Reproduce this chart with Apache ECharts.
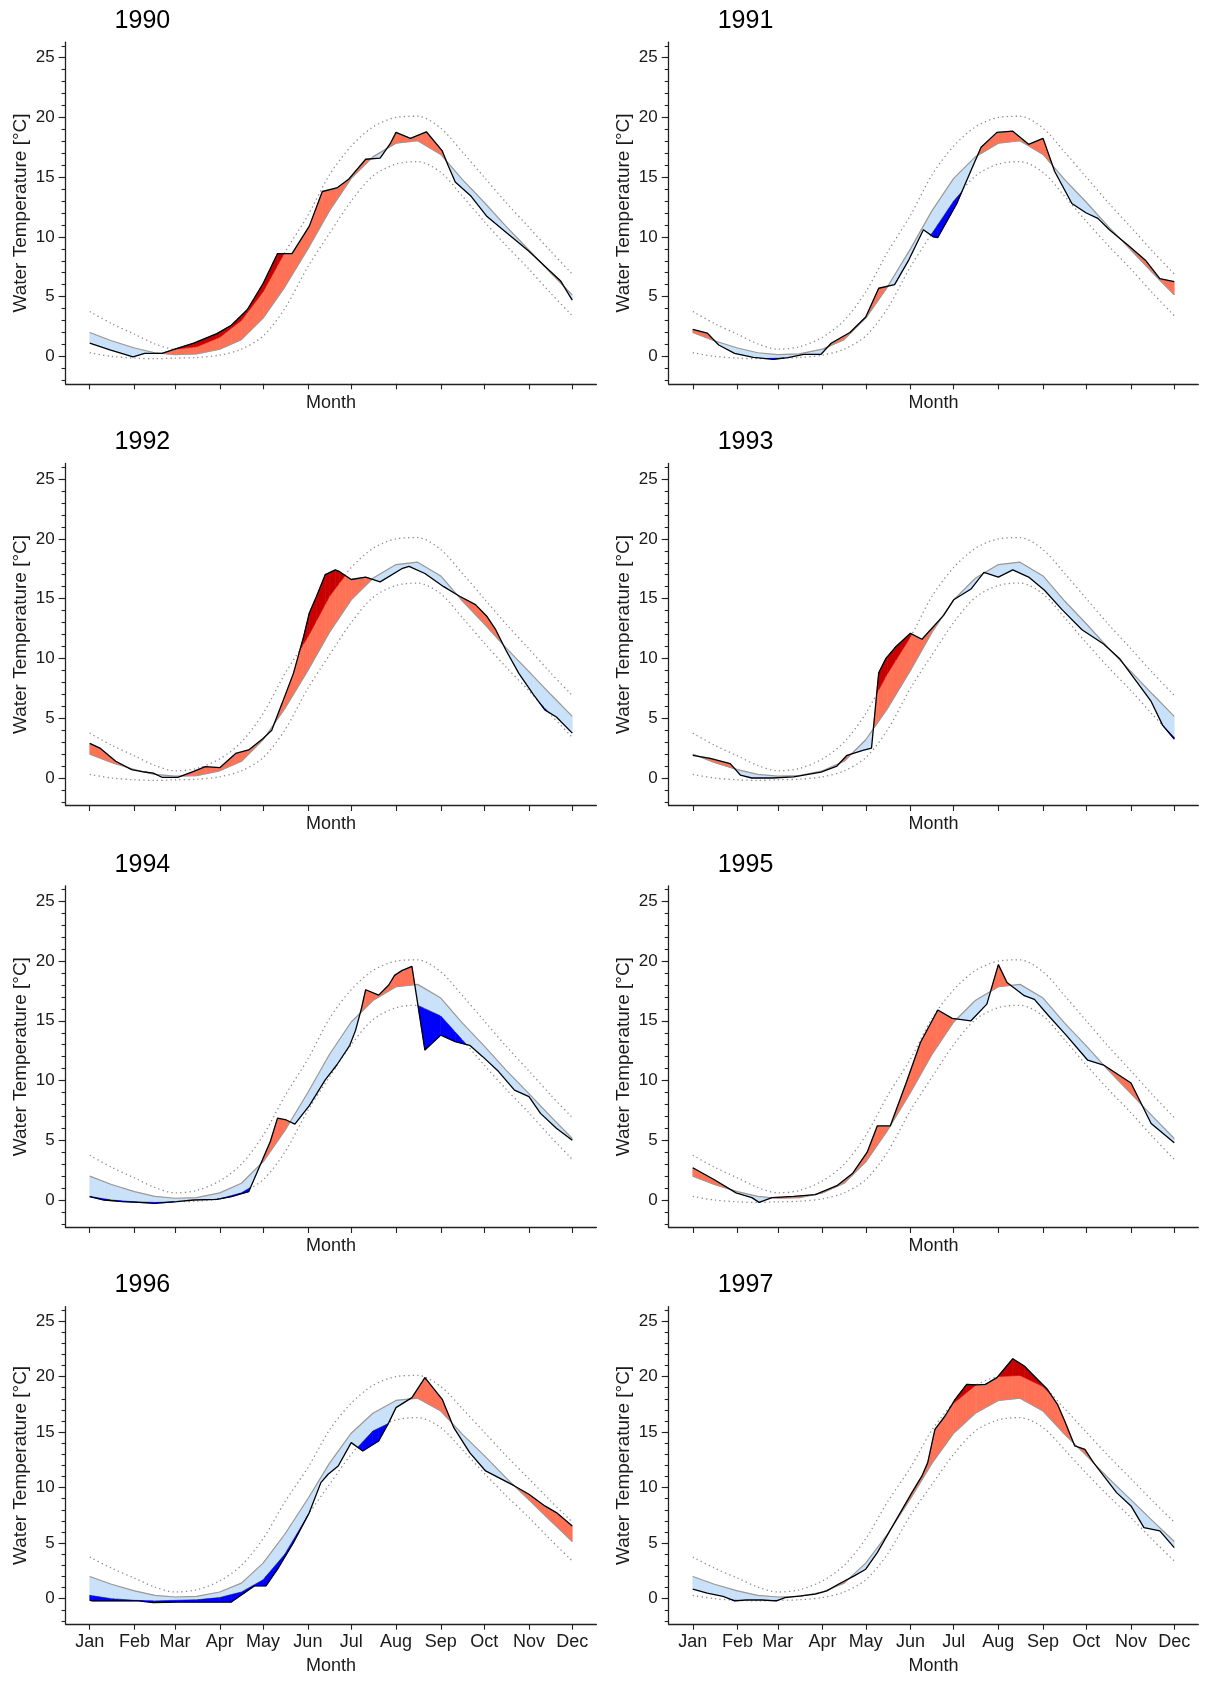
<!DOCTYPE html>
<html><head><meta charset="utf-8">
<script src="https://cdn.jsdelivr.net/npm/echarts@6/dist/echarts.min.js"></script>
<style>html,body{margin:0;padding:0;background:#fff;}#chart{width:1214px;height:1682px;}</style>
</head><body><div id="chart"></div>
<script>
// ---------- data ----------
const YEARS = ['1990','1991','1992','1993','1994','1995','1996','1997'];
const MONTH_DAYS = [0,31,59,90,120,151,181,212,243,273,304,334];
const MONTH_LABELS = ['Jan','Feb','Mar','Apr','May','Jun','Jul','Aug','Sep','Oct','Nov','Dec'];
const Y_TICKS = [0,5,10,15,20,25];
const Y_MINOR = [-2,-1,0,1,2,3,4,5,6,7,8,9,10,11,12,13,14,15,16,17,18,19,20,21,22,23,24,25,26];

// climatology (day of year)
const CLIM_DAYS = [0,15,31,45,59,74,90,105,120,135,151,166,181,196,212,227,243,258,273,288,304,319,334];
const CLIM  = [2.0,1.3,0.7,0.3,0.15,0.2,0.6,1.4,3.2,5.8,9.0,12.2,14.9,16.7,17.85,18.05,16.9,14.8,12.9,10.9,8.9,7.0,5.15];
const UPPER = [3.75,2.75,1.85,1.05,0.6,0.8,1.6,3.0,5.4,8.7,11.8,15.2,17.6,19.2,20.0,20.1,19.1,17.1,15.0,12.9,10.8,8.8,6.9];
const LOWER = [0.3,0.0,-0.15,-0.2,-0.15,-0.1,0.1,0.6,1.7,4.0,7.5,10.3,13.0,15.1,16.1,16.3,15.4,13.4,11.3,9.3,7.3,5.3,3.4];

// observed water temperature [day, °C]
const OBS_1990 = [[0,1.1],[14,0.55],[30,-0.05],[38,0.25],[50,0.25],[60,0.65],[72,1.1],[88,1.9],[98,2.6],[109,3.9],[120,6.1],[130,8.6],[140,8.6],[152,10.9],[161,13.8],[171,14.1],[179,14.8],[191,16.5],[201,16.6],[208,17.8],[212,18.75],[222,18.25],[233,18.8],[244,17.2],[248,16.0],[253,14.6],[264,13.4],[275,11.7],[286,10.6],[294,9.8],[304,8.8],[318,7.2],[326,6.3],[334,4.7]];
const OBS_1991 = [[0,2.25],[10,1.95],[18,0.95],[29,0.25],[42,-0.08],[56,-0.25],[66,-0.1],[77,0.17],[89,0.17],[96,1.1],[109,2.0],[120,3.3],[129,5.7],[140,6.0],[150,8.1],[160,10.6],[167,10.0],[170,9.95],[183,12.75],[191,15.0],[200,17.5],[211,18.75],[222,18.85],[233,17.75],[243,18.25],[251,15.5],[263,12.8],[273,12.0],[281,11.55],[289,10.6],[302,9.3],[314,8.05],[324,6.5],[334,6.25]];
const OBS_1992 = [[0,2.9],[7,2.5],[18,1.4],[29,0.7],[38,0.5],[44,0.4],[50,0.06],[61,0.06],[72,0.55],[80,0.95],[90,0.86],[101,2.05],[110,2.35],[120,3.3],[126,4.0],[133,6.2],[141,8.75],[148,11.8],[152,13.8],[157,15.2],[163,17.0],[170,17.4],[173,17.25],[181,16.6],[191,16.8],[201,16.4],[216,17.5],[221,17.7],[232,17.1],[245,16.0],[256,15.2],[267,14.5],[275,13.5],[281,12.4],[288,10.7],[297,8.75],[307,7.0],[315,5.7],[323,5.1],[334,3.75]];
const OBS_1993 = [[0,1.9],[12,1.65],[26,1.2],[33,0.25],[41,0.0],[55,0.0],[70,0.1],[89,0.5],[100,1.0],[107,1.9],[118,2.3],[124,2.5],[129,8.8],[134,10.0],[141,11.0],[151,12.1],[159,11.6],[174,13.6],[181,14.9],[193,15.8],[202,17.2],[212,16.8],[222,17.4],[233,16.8],[244,15.7],[256,14.1],[270,12.4],[285,11.2],[296,10.0],[307,8.2],[318,6.4],[326,4.4],[334,3.25]];
const OBS_1994 = [[0,0.28],[10,0.0],[23,-0.14],[34,-0.2],[45,-0.28],[60,-0.14],[72,0.0],[88,0.06],[98,0.28],[110,0.7],[114,1.8],[125,4.9],[130,6.85],[136,6.7],[142,6.35],[152,7.9],[163,10.05],[171,11.3],[180,12.95],[184,14.2],[188,16.0],[191,17.6],[200,17.15],[207,18.0],[211,18.8],[216,19.2],[223,19.55],[232,12.55],[243,13.8],[253,13.25],[263,12.95],[272,12.0],[283,10.75],[294,9.2],[304,8.65],[312,7.25],[323,6.0],[334,5.0]];
const OBS_1995 = [[0,2.7],[15,1.7],[30,0.6],[41,0.2],[46,-0.2],[55,0.2],[70,0.3],[85,0.45],[100,1.2],[111,2.25],[121,4.0],[128,6.2],[137,6.2],[148,9.8],[158,13.2],[170,15.9],[180,15.2],[193,15.0],[204,16.4],[212,19.7],[218,18.2],[230,17.1],[237,16.8],[247,15.4],[259,13.8],[274,11.7],[285,11.3],[304,9.8],[318,6.4],[334,4.8]];
const OBS_1996 = [[0,-0.15],[2,-0.2],[18,-0.2],[34,-0.2],[44,-0.35],[60,-0.3],[77,-0.3],[98,-0.3],[109,0.7],[114,1.15],[122,1.15],[130,2.65],[141,5.05],[152,7.75],[160,10.45],[165,11.2],[172,11.95],[181,14.05],[189,13.3],[200,14.2],[207,15.85],[212,17.2],[223,18.1],[232,19.9],[244,17.95],[252,15.4],[263,13.15],[274,11.5],[283,10.9],[294,10.15],[304,9.4],[315,8.35],[323,7.75],[334,6.55]];
const OBS_1997 = [[0,0.85],[10,0.5],[21,0.2],[29,-0.2],[37,-0.12],[48,-0.12],[58,-0.2],[64,0.1],[75,0.25],[85,0.4],[93,0.7],[101,1.3],[112,2.05],[120,2.65],[128,4.15],[136,5.95],[144,7.75],[152,9.55],[159,11.05],[163,12.25],[168,15.25],[175,16.45],[182,17.95],[190,19.3],[197,19.25],[203,19.3],[211,19.9],[222,21.6],[230,20.95],[238,19.9],[246,18.85],[253,17.5],[258,16.0],[265,13.75],[272,13.45],[278,12.25],[286,10.9],[294,9.55],[304,8.35],[313,6.4],[324,6.1],[334,4.6]];
const OBS = [OBS_1990,OBS_1991,OBS_1992,OBS_1993,OBS_1994,OBS_1995,OBS_1996,OBS_1997];

// ---------- styling ----------
const FONT = '"Liberation Sans", Arial, sans-serif';
const SALMON = '#FF7256', DARKRED = '#C80000', LIGHTBLUE = '#CAE1FA', BLUE = '#0000FF';
const AXIS_COLOR = '#222';
const X_MIN = -16.7, X_MAX = 350.7, Y_MIN = -2.3, Y_MAX = 26.3;
const COL_LEFT = [65.6, 668.7], COL_WIDTH = [530.8, 529.6];
const ROW_TOP = [42.2, 463.5, 885.8, 1306.6], ROW_HEIGHT = [341.6, 342, 341.7, 317.6];

function lerp(xs, ys, x) {
  if (x <= xs[0]) return ys[0];
  for (let i = 0; i < xs.length - 1; i++) {
    if (x <= xs[i+1]) { const t = (x - xs[i]) / (xs[i+1] - xs[i]); return ys[i] + (ys[i+1]-ys[i]) * t; }
  }
  return ys[ys.length-1];
}

function buildPolys(obs) {
  const set = new Set(CLIM_DAYS); obs.forEach(p => set.add(p[0]));
  const x0 = obs[0][0], x1 = obs[obs.length-1][0];
  const xs = Array.from(set).filter(x => x >= x0 && x <= x1).sort((a,b)=>a-b);
  const od = obs.map(p=>p[0]), ov = obs.map(p=>p[1]);
  const rows = xs.map(x => ({x, o: lerp(od, ov, x), c: lerp(CLIM_DAYS, CLIM, x), u: lerp(CLIM_DAYS, UPPER, x), l: lerp(CLIM_DAYS, LOWER, x)}));
  const polys = [];
  for (let i = 0; i < rows.length - 1; i++) {
    const a = rows[i], b = rows[i+1];
    const ts = [0, 1];
    ['c','u','l'].forEach(k => { const da = a.o - a[k], db = b.o - b[k]; if (da * db < 0) ts.push(da / (da - db)); });
    ts.sort((p,q)=>p-q);
    const at = t => ({x: a.x+(b.x-a.x)*t, o: a.o+(b.o-a.o)*t, c: a.c+(b.c-a.c)*t, u: a.u+(b.u-a.u)*t, l: a.l+(b.l-a.l)*t});
    for (let j = 0; j < ts.length - 1; j++) {
      if (ts[j+1] - ts[j] < 1e-9) continue;
      const p = at(ts[j]), q = at(ts[j+1]), m = at((ts[j]+ts[j+1])/2);
      if (m.o > m.c) {
        const top = m.o > m.u ? 'u' : 'o';
        polys.push({color: SALMON, pts: [[p.x,p.c],[q.x,q.c],[q.x,q[top]],[p.x,p[top]]]});
        if (m.o > m.u) polys.push({color: DARKRED, pts: [[p.x,p.u],[q.x,q.u],[q.x,q.o],[p.x,p.o]]});
      } else if (m.o < m.c) {
        const bot = m.o < m.l ? 'l' : 'o';
        polys.push({color: LIGHTBLUE, pts: [[p.x,p[bot]],[q.x,q[bot]],[q.x,q.c],[p.x,p.c]]});
        if (m.o < m.l) polys.push({color: BLUE, pts: [[p.x,p.o],[q.x,q.o],[q.x,q.l],[p.x,p.l]]});
      }
    }
  }
  return polys;
}

const grids = [], xAxes = [], yAxes = [], series = [], graphics = [];
YEARS.forEach((yr, i) => {
  const col = i % 2, row = Math.floor(i / 2), bottom = row === 3;
  grids.push({left: COL_LEFT[col], top: ROW_TOP[row], width: COL_WIDTH[col], height: ROW_HEIGHT[row], containLabel: false});
  xAxes.push({
    type: 'value', gridIndex: i, min: X_MIN, max: X_MAX, position: 'bottom',
    name: 'Month', nameLocation: 'middle', nameGap: bottom ? 33 : 10,
    nameTextStyle: {fontFamily: FONT, fontSize: 18, color: '#1a1a1a'},
    axisLine: {show: true, onZero: false, lineStyle: {color: AXIS_COLOR, width: 1.3}},
    axisTick: {show: true, length: 5.5, customValues: MONTH_DAYS, lineStyle: {color: AXIS_COLOR, width: 1.1}},
    axisLabel: {show: bottom, customValues: MONTH_DAYS, margin: 9, fontFamily: FONT, fontSize: 18, color: '#1a1a1a',
      formatter: v => { const k = MONTH_DAYS.indexOf(v); return k >= 0 ? MONTH_LABELS[k] : ''; }},
    splitLine: {show: false}
  });
  yAxes.push({
    type: 'value', gridIndex: i, min: Y_MIN, max: Y_MAX, position: 'left',
    name: 'Water Temperature [°C]', nameLocation: 'middle', nameGap: 35,
    nameTextStyle: {fontFamily: FONT, fontSize: 19, color: '#1a1a1a'},
    axisLine: {show: true, onZero: false, lineStyle: {color: AXIS_COLOR, width: 1.3}},
    axisTick: {show: true, length: 7, customValues: Y_TICKS, lineStyle: {color: AXIS_COLOR, width: 1.1}},
    axisLabel: {show: true, customValues: Y_TICKS, margin: 11, fontFamily: FONT, fontSize: 17, color: '#1a1a1a'},
    splitLine: {show: false}
  });
  yAxes.push({
    type: 'value', gridIndex: i, min: Y_MIN, max: Y_MAX, position: 'left',
    axisLine: {show: false, onZero: false},
    axisTick: {show: true, length: 4, customValues: Y_MINOR, lineStyle: {color: AXIS_COLOR, width: 1.1}},
    axisLabel: {show: false},
    splitLine: {show: false}
  });
  const yi = 2 * i;
  const climPairs = CLIM_DAYS.map((d, k) => [d, CLIM[k]]);
  const upPairs = CLIM_DAYS.map((d, k) => [d, UPPER[k]]);
  const loPairs = CLIM_DAYS.map((d, k) => [d, LOWER[k]]);
  const dotted = {color: '#8c8c8c', width: 1.3, type: [1.3, 3.2]};
  series.push({type: 'line', xAxisIndex: i, yAxisIndex: yi, data: upPairs, showSymbol: false, smooth: 0.3, lineStyle: dotted, z: 1, silent: true});
  series.push({type: 'line', xAxisIndex: i, yAxisIndex: yi, data: loPairs, showSymbol: false, smooth: 0.3, lineStyle: dotted, z: 1, silent: true});
  const polys = buildPolys(OBS[i]);
  series.push({
    type: 'custom', coordinateSystem: 'cartesian2d', xAxisIndex: i, yAxisIndex: yi, z: 2, silent: true,
    data: polys.map(p => [p.pts[0][0], p.pts[0][1]]), encode: {x: 0, y: 1},
    renderItem: (params, api) => {
      const p = polys[params.dataIndex];
      return {type: 'polygon', shape: {points: p.pts.map(pt => api.coord(pt))}, style: {fill: p.color, stroke: p.color, lineWidth: 0.6}};
    }
  });
  series.push({type: 'line', xAxisIndex: i, yAxisIndex: yi, data: climPairs, showSymbol: false, lineStyle: {color: '#999999', width: 1.2}, z: 3, silent: true});
  series.push({type: 'line', xAxisIndex: i, yAxisIndex: yi, data: OBS[i], showSymbol: false, lineStyle: {color: '#000', width: 1.3}, z: 4, silent: true});
  graphics.push({type: 'text', x: COL_LEFT[col] + 49, y: ROW_TOP[row] - 21,
    style: {text: yr, font: '25px ' + FONT, fill: '#000', textVerticalAlign: 'middle', verticalAlign: 'middle'}});
});

const chart = echarts.init(document.getElementById('chart'), null, {renderer: 'canvas'});
chart.setOption({animation: false, backgroundColor: '#fff', grid: grids, xAxis: xAxes, yAxis: yAxes, series, graphic: graphics});
</script></body></html>
